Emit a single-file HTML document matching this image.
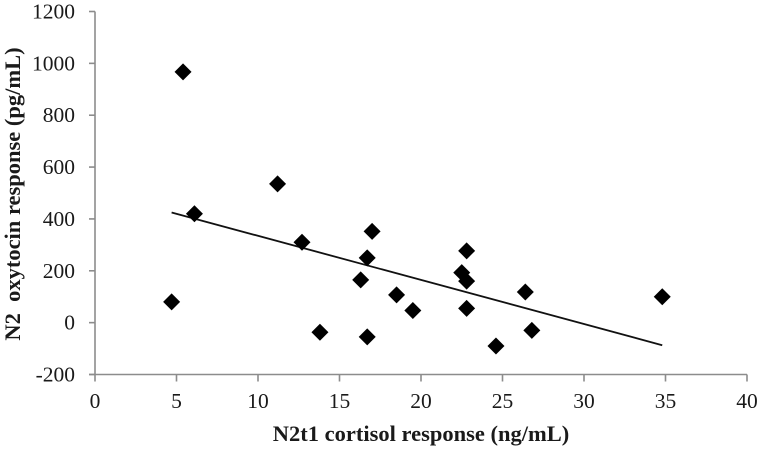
<!DOCTYPE html>
<html lang="en">
<head>
<meta charset="utf-8">
<title>N2 oxytocin response vs N2t1 cortisol response</title>
<style>
html,body{margin:0;padding:0;background:#fff;}
svg{display:block;}
text{font-family:"Liberation Serif",serif;fill:#1a1a1a;}
.tick{font-size:21.5px;}
.title{font-size:22.5px;font-weight:bold;}
</style>
</head>
<body>
<svg id="chart" width="762" height="450" viewBox="0 0 762 450" xmlns="http://www.w3.org/2000/svg"></svg>
<script>
const xTickValues = [0, 5, 10, 15, 20, 25, 30, 35, 40];
const yTickValues = [-200, 0, 200, 400, 600, 800, 1000, 1200];
const cortisolValues = [4.7, 5.4, 6.1, 11.2, 12.7, 13.8, 16.3, 16.7, 16.7, 17, 18.5, 19.5, 22.5, 22.8, 22.8, 22.8, 24.6, 26.4, 26.8, 34.8];
const oxytocinValues = [80, 967, 420, 535, 310, -37, 165, 250, -55, 352, 107, 47, 193, 160, 277, 55, -90, 118, -30, 100];
const trendX = [4.7, 34.8];
const trendY = [425, -87];

const NS = 'http://www.w3.org/2000/svg';
const svg = document.getElementById('chart');
const xScale = v => 95 + (v - 0) * (747 - 95) / 40;
const yScale = v => 374.5 - (v + 200) * (374.5 - 11.5) / 1400;

function make(tag, attrs, text) {
  const el = document.createElementNS(NS, tag);
  for (const k in attrs) el.setAttribute(k, attrs[k]);
  if (text !== undefined) el.textContent = text;
  svg.appendChild(el);
  return el;
}

const axisStyle = {stroke: '#8c8c8c', 'stroke-width': 1.6, fill: 'none'};

const yAxis = make('line', Object.assign({x1: xScale(0), x2: xScale(0), y1: yScale(1200), y2: yScale(-200)}, axisStyle));



const xAxis = make('line', Object.assign({x1: xScale(0) - 6, x2: xScale(40), y1: yScale(-200), y2: yScale(-200)}, axisStyle));



xTickValues.forEach(v => {
  const t = make('line', Object.assign({x1: xScale(v), x2: xScale(v), y1: yScale(-200), y2: yScale(-200) + 7}, axisStyle));
  
  
  const l = make('text', {class: 'tick', x: xScale(v), y: 408, 'text-anchor': 'middle'}, String(v));
  
  
});

yTickValues.forEach(v => {
  const t = make('line', Object.assign({x1: xScale(0) - 6, x2: xScale(0), y1: yScale(v), y2: yScale(v)}, axisStyle));
  
  
  const l = make('text', {class: 'tick', x: 75, y: yScale(v) + 7, 'text-anchor': 'end'}, String(v));
  
  
});

const trend = make('line', {x1: xScale(trendX[0]), y1: yScale(trendY[0]), x2: xScale(trendX[1]), y2: yScale(trendY[1]), stroke: '#111', 'stroke-width': 1.8});



cortisolValues.forEach((xv, i) => {
  const cx = xScale(xv), cy = yScale(oxytocinValues[i]), r = 8.5;
  const p = make('polygon', {points: [[cx, cy - r], [cx + r, cy], [cx, cy + r], [cx - r, cy]].map(q => q.join(',')).join(' '), fill: '#000'});
  
  
});

const xTitle = make('text', {class: 'title', x: 421, y: 441, 'text-anchor': 'middle'}, 'N2t1 cortisol response (ng/mL)');



const yTitle = make('text', {class: 'title', x: 0, y: 0, 'text-anchor': 'middle', 'xml:space': 'preserve', style: 'white-space:pre', transform: 'translate(20,194) rotate(-90)'}, 'N2  oxytocin response (pg/mL)');


</script>
</body>
</html>
